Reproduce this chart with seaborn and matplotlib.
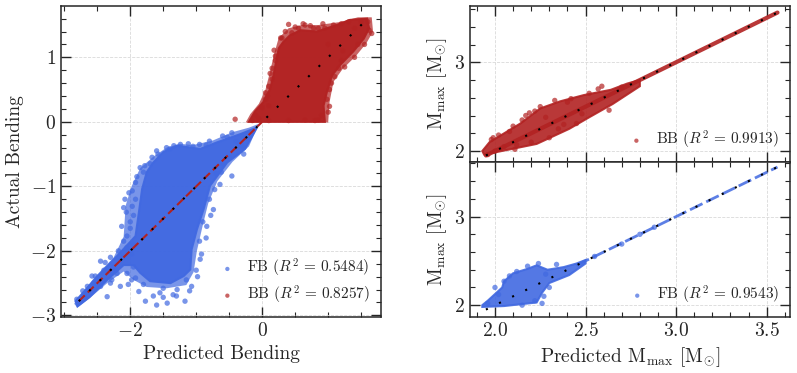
import matplotlib
matplotlib.use("Agg")
import matplotlib.pyplot as plt
import seaborn as sns
from matplotlib.ticker import MultipleLocator, FormatStrFormatter

sns.set_style("ticks")
plt.rcParams.update({
    "font.family": "serif",
    "font.serif": ["cmr10", "DejaVu Serif"],
    "mathtext.fontset": "cm",
    "axes.formatter.use_mathtext": True,
    "axes.unicode_minus": True,
})

BLUE = "#4169E1"
RED = "#B22222"

# ---------------- Left panel: bending ----------------
# dense core outlines
fb_core_x = [-2.83, -2.50, -2.20, -2.00, -1.92, -1.87, -1.82, -1.75, -1.65, -1.50, -1.29, -0.94,
             -0.69, -0.33, -0.16, -0.08, -0.26, -0.53, -0.79, -0.89, -0.99, -1.07, -1.09, -1.19,
             -1.39, -1.70, -1.85, -1.95, -2.10, -2.35, -2.62, -2.80]
fb_core_y = [-2.78, -2.40, -2.08, -1.86, -1.77, -1.41, -1.04, -0.78, -0.63, -0.47, -0.37, -0.42,
             -0.32, -0.19, -0.12, -0.09, -0.42, -0.63, -0.99, -1.36, -1.67, -1.98, -2.29, -2.39,
             -2.50, -2.47, -2.34, -2.22, -2.22, -2.45, -2.72, -2.86]
# sparse fringe outlines
fb_halo_x = [-2.85, -2.55, -2.25, -2.10, -2.07, -1.98, -1.85, -1.65, -1.45, -1.25, -1.05, -0.75,
             -0.45, -0.20, -0.05, -0.20, -0.45, -0.68, -0.82, -0.90, -0.99, -1.04, -1.15, -1.45,
             -1.75, -1.95, -2.10, -2.35, -2.60, -2.80]
fb_halo_y = [-2.82, -2.42, -2.10, -1.78, -1.30, -1.00, -0.72, -0.54, -0.40, -0.34, -0.36, -0.29,
             -0.16, -0.09, -0.03, -0.38, -0.62, -0.92, -1.27, -1.60, -2.00, -2.33, -2.53, -2.58,
             -2.56, -2.45, -2.32, -2.50, -2.72, -2.88]
fb_pts_x = [-1.85, -1.70, -1.92, -1.97, -2.08, -2.10, -1.97, -2.13, -2.05, -2.18, -2.45, -2.53,
            -2.35, -2.15, -2.03, -1.87, -1.77, -1.60, -1.44, -1.17, -1.55, -1.29, -1.07, -0.94,
            -0.84, -0.74, -0.64, -0.46, -0.28, -0.53, -0.46, -1.12, -1.34, -1.24, -1.67, -1.80,
            -2.81, -2.58, -2.65, -2.40, -2.25, -2.20, -2.05, -1.98, -1.95, -2.00, -1.95, -2.05,
            -1.15, -1.00, -0.95, -0.90, -0.80, -0.70, -0.60, -0.35, -0.25, -0.95, -0.80, -1.45,
            -1.60, -2.72, -2.30, -1.35, -1.50,
            -2.02, -2.06, -2.00, -2.10, -1.98, -2.12, -1.92, -1.95, -1.90, -1.78, -1.58, -1.40,
            -1.05, -0.85, -0.60, -0.40, -0.30, -0.50, -0.62, -0.72, -0.78, -0.85, -0.92, -0.98,
            -1.10, -1.30, -1.50, -1.65, -1.80, -1.92, -2.28, -2.45, -2.62, -2.70, -2.55, -2.38,
            -2.30, -2.22]
fb_pts_y = [-0.71, -0.65, -0.94, -1.07, -1.20, -1.33, -1.31, -1.62, -1.77, -2.00, -2.16, -2.39,
            -2.71, -2.55, -2.52, -2.63, -2.78, -2.84, -2.81, -2.78, -2.65, -2.60, -2.55, -2.13,
            -1.62, -1.36, -0.97, -0.84, -0.50, -0.24, -0.17, -0.34, -0.37, -0.35, -0.55, -0.78,
            -2.75, -2.39, -2.55, -2.30, -2.25, -2.35, -2.35, -2.45, -2.25, -1.55, -1.90, -1.95,
            -2.45, -2.30, -1.85, -1.55, -1.20, -0.80, -0.65, -0.35, -0.25, -0.35, -0.30, -0.40,
            -0.45, -2.62, -2.50, -2.68, -2.72,
            -1.10, -1.40, -1.65, -1.85, -2.05, -2.10, -1.20, -1.45, -0.85, -0.68, -0.50, -0.42,
            -0.38, -0.36, -0.22, -0.30, -0.38, -0.55, -0.78, -1.05, -1.45, -1.80, -2.05, -2.40,
            -2.62, -2.70, -2.58, -2.70, -2.52, -2.42, -2.45, -2.55, -2.62, -2.68, -2.50, -2.18,
            -2.10, -2.30]

bb_core_x = [-0.20, 0.95, 0.93, 0.98, 1.06, 1.18, 1.38, 1.54, 1.62, 1.59, 1.33, 1.13, 0.83,
             0.58, 0.42, 0.32, 0.25, 0.22, 0.17, 0.12, 0.02, -0.11]
bb_core_y = [0.00, 0.00, 0.25, 0.46, 0.72, 0.88, 1.09, 1.29, 1.45, 1.60, 1.58, 1.50, 1.40,
             1.42, 1.34, 1.24, 1.14, 0.98, 0.72, 0.51, 0.31, 0.16]
bb_halo_x = [-0.25, 1.00, 1.02, 1.08, 1.22, 1.42, 1.58, 1.68, 1.66, 1.45, 1.20, 0.85, 0.60,
             0.40, 0.25, 0.18, 0.12, 0.05, -0.05, -0.18]
bb_halo_y = [-0.01, -0.01, 0.30, 0.62, 0.82, 1.02, 1.22, 1.40, 1.62, 1.62, 1.55, 1.50, 1.50,
             1.45, 1.30, 1.05, 0.78, 0.50, 0.28, 0.12]
bb_pts_x = [0.40, 0.18, 0.15, 1.02, 0.80, -0.41, 1.16, 0.15, 0.73, 1.08, 1.31, 1.66, 0.28,
            0.55, 0.95, 1.20, 1.05, 0.98, 0.90, 0.65, -0.05, 0.08, 0.20, 1.45, 1.60, 0.10,
            1.00, 1.40, 0.50, 0.62, 1.22, 0.35, -0.15,
            0.10, 0.05, 0.12, 0.20, 0.30, 0.45, 0.65, 0.85, 1.20, 1.50, 1.62, 1.55, 1.40, 1.25,
            1.10, 1.02, 1.00, 0.85, 0.40, 0.10, -0.10, 0.00, 0.05, 0.92, 0.78]
bb_pts_y = [1.51, 1.11, 0.66, 0.24, 0.02, 0.04, 0.83, 0.83, 1.49, 1.50, 1.55, 1.37, 1.30,
            1.45, 1.45, 0.95, 0.60, 0.35, 0.10, 0.03, 0.05, 0.40, 0.95, 1.20, 1.55, 0.25,
            1.20, 1.45, 1.47, 1.52, 1.10, 1.40, 0.02,
            0.55, 0.45, 0.75, 1.02, 1.30, 1.38, 1.50, 1.45, 1.52, 1.55, 1.42, 1.20, 1.00, 0.85,
            0.70, 0.50, 0.15, 0.03, 0.02, 0.02, 0.10, 0.22, 0.35, 1.52, 1.45]

ref_left = [-2.78, 1.60]
ref_left_red = [-2.78, 0.00]

# ---------------- Right panels: M_max ----------------
mbb_core_x = [1.94, 2.23, 2.41, 2.52, 2.65, 2.80, 2.80, 2.73, 2.64, 2.49, 2.36, 2.25, 2.14, 1.97, 1.93]
mbb_core_y = [1.96, 2.08, 2.25, 2.38, 2.53, 2.73, 2.80, 2.76, 2.69, 2.63, 2.56, 2.48, 2.31, 2.10, 2.00]
mbb_pts_x = [2.59, 2.63, 2.19, 1.98, 2.45, 2.52, 2.11, 1.96, 1.99, 2.42, 2.05, 2.15, 2.25, 2.30,
             2.35, 2.20, 2.40, 2.70, 2.10, 2.00, 2.28, 2.57, 2.33, 2.08, 2.17, 2.38, 2.48, 2.02,
             2.22, 2.12]
mbb_pts_y = [2.73, 2.46, 2.43, 2.13, 2.31, 2.65, 2.02, 1.96, 2.15, 2.59, 2.05, 2.35, 2.50, 2.15,
             2.25, 2.10, 2.55, 2.72, 2.28, 2.00, 2.38, 2.70, 2.57, 2.22, 2.40, 2.30, 2.42, 2.18,
             2.45, 2.07]
mbb_line = [1.95, 3.56]

mfb_core_x = [1.93, 2.05, 2.23, 2.26, 2.30, 2.41, 2.50, 2.50, 2.45, 2.38, 2.29, 2.23, 2.18, 2.10,
              2.05, 2.04, 1.96, 1.93]
mfb_core_y = [1.98, 1.99, 2.03, 2.14, 2.25, 2.34, 2.47, 2.51, 2.47, 2.43, 2.40, 2.45, 2.41, 2.36,
              2.27, 2.20, 2.05, 2.00]
mfb_pts_x = [2.24, 2.34, 2.27, 2.22, 2.05, 2.12, 1.96, 2.70, 2.80, 2.88, 2.55, 2.15, 2.30, 2.00,
             2.26, 2.08, 2.02, 2.18, 2.28]
mfb_pts_y = [2.47, 2.46, 2.10, 2.05, 2.27, 2.38, 2.02, 2.69, 2.80, 2.88, 2.55, 2.00, 2.20, 2.20,
             2.02, 2.33, 2.12, 2.44, 2.35]
mfb_line = [2.45, 3.56]
ref_right = [1.95, 3.56]

fig = plt.figure(figsize=(7.97, 3.73), dpi=100)
axL = fig.add_axes([0.0765, 0.151, 0.4015, 0.832])
axT = fig.add_axes([0.5897, 0.5665, 0.4015, 0.4165])
axB = fig.add_axes([0.5897, 0.151, 0.4015, 0.4155], sharex=axT)

sz = 15
PT_ALPHA = 0.7


def style(ax):
    ax.grid(True, ls="--", lw=0.6, color="#d9d9d9")
    ax.set_axisbelow(True)
    ax.tick_params(which="both", direction="in", top=True, right=True, labelsize=14)
    ax.tick_params(which="major", length=7, width=1.0)
    ax.tick_params(which="minor", length=3.5, width=0.8)
    for s in ax.spines.values():
        s.set_linewidth(1.1)


def legend(ax):
    ax.legend(loc="lower right", frameon=False, fontsize=11, handletextpad=0.5,
              markerscale=0.8, borderaxespad=0.3, labelspacing=0.3, handlelength=1.6)


# Left
axL.fill(fb_halo_x, fb_halo_y, color=BLUE, alpha=0.7, lw=0)
axL.fill(fb_core_x, fb_core_y, color=BLUE, alpha=0.95, lw=1.5, ec=BLUE)
sns.scatterplot(x=fb_pts_x, y=fb_pts_y, color=BLUE, s=sz, alpha=PT_ALPHA, edgecolor="none",
                label=r"FB ($R^2\,=\,0.5484$)", ax=axL)
axL.fill(bb_halo_x, bb_halo_y, color=RED, alpha=0.7, lw=0)
axL.fill(bb_core_x, bb_core_y, color=RED, alpha=0.95, lw=1.5, ec=RED)
sns.scatterplot(x=bb_pts_x, y=bb_pts_y, color=RED, s=sz, alpha=PT_ALPHA, edgecolor="none",
                label=r"BB ($R^2\,=\,0.8257$)", ax=axL)
axL.plot(ref_left_red, ref_left_red, ls=(0, (4, 2)), color=RED, lw=1.5)
axL.plot(ref_left, ref_left, ls=(0, (1, 6)), color="black", lw=1.5)
axL.set_xlim(-3.05, 1.80)
axL.set_ylim(-3.02, 1.79)
axL.xaxis.set_major_locator(MultipleLocator(2))
axL.xaxis.set_minor_locator(MultipleLocator(0.5))
axL.yaxis.set_major_locator(MultipleLocator(1))
axL.yaxis.set_minor_locator(MultipleLocator(0.2))
axL.set_xlabel("Predicted Bending", fontsize=14)
axL.set_ylabel("Actual Bending", fontsize=14)
style(axL)
legend(axL)

# Right top
axT.fill(mbb_core_x, mbb_core_y, color=RED, alpha=0.9, lw=1.5, ec=RED)
axT.plot(mbb_line, mbb_line, color=RED, lw=3.0, alpha=0.9, solid_capstyle="round")
sns.scatterplot(x=mbb_pts_x, y=mbb_pts_y, color=RED, s=sz, alpha=PT_ALPHA, edgecolor="none",
                label=r"BB ($R^2\,=\,0.9913$)", ax=axT)
axT.plot(ref_right, ref_right, ls=(0, (1, 6)), color="black", lw=1.5)
axT.set_ylim(1.88, 3.63)
axT.yaxis.set_major_locator(MultipleLocator(1))
axT.yaxis.set_minor_locator(MultipleLocator(0.2))
axT.set_ylabel(r"M$_{\rm max}$ [M$_{\odot}$]", fontsize=14)
style(axT)
axT.tick_params(labelbottom=False)
legend(axT)

# Right bottom
axB.fill(mfb_core_x, mfb_core_y, color=BLUE, alpha=0.9, lw=1.5, ec=BLUE)
axB.plot(mfb_line, mfb_line, color=BLUE, lw=2.0, alpha=0.85, ls=(0, (5, 1.5)))
sns.scatterplot(x=mfb_pts_x, y=mfb_pts_y, color=BLUE, s=sz, alpha=PT_ALPHA, edgecolor="none",
                label=r"FB ($R^2\,=\,0.9543$)", ax=axB)
axB.plot(ref_right, ref_right, ls=(0, (1, 6)), color="black", lw=1.5)
axB.set_xlim(1.862, 3.629)
axB.set_ylim(1.87, 3.62)
axB.xaxis.set_major_locator(MultipleLocator(0.5))
axB.xaxis.set_minor_locator(MultipleLocator(0.1))
axB.yaxis.set_major_locator(MultipleLocator(1))
axB.yaxis.set_minor_locator(MultipleLocator(0.2))
axB.xaxis.set_major_formatter(FormatStrFormatter(r"$%.1f$"))
axB.set_xlabel(r"Predicted M$_{\rm max}$ [M$_{\odot}$]", fontsize=14)
axB.set_ylabel(r"M$_{\rm max}$ [M$_{\odot}$]", fontsize=14)
style(axB)
legend(axB)

fig.savefig("out.png", dpi=100)
